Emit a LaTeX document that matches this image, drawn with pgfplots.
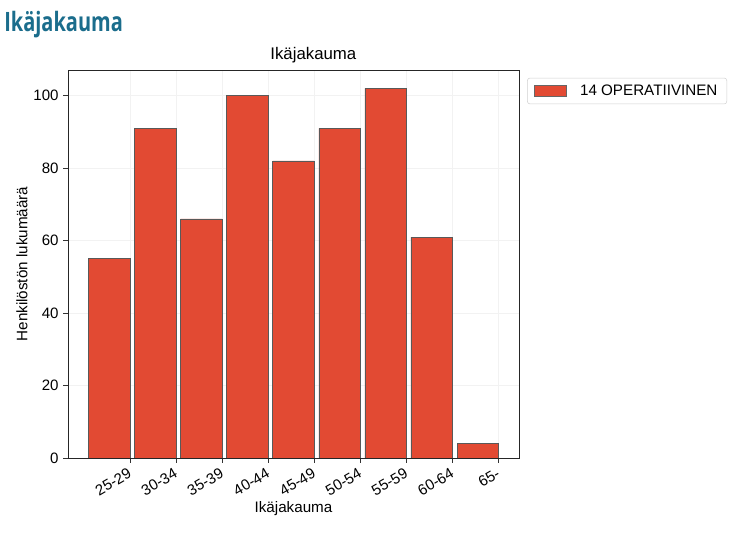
\documentclass[border=0pt]{standalone}
\usepackage{pgfplots}
\pgfplotsset{compat=1.18}
\usepackage{fontspec}
\setmainfont{Liberation Sans}
\newfontfamily\titlefont[FakeStretch=0.75]{Open Sans}
\definecolor{barred}{HTML}{E24A33}
\definecolor{titleteal}{HTML}{1B6D8C}
\begin{document}
\begin{tikzpicture}
\path (0pt,0pt) rectangle (549.75pt,404.25pt);
\node[anchor=base west,font=\titlefont\bfseries\fontsize{20}{23}\selectfont,text=titleteal,inner sep=0pt] at (3pt,380.25pt) {Ikäjakauma};
\begin{axis}[
  at={(51pt,60.75pt)}, anchor=south west,
  width=338.25pt, height=291pt, scale only axis,
  xmin=-0.895, xmax=8.895,
  ymin=0, ymax=107.1,
  ybar, bar width=0.9, bar shift=0pt,
  xtick={0.45,1.45,2.45,3.45,4.45,5.45,6.45,7.45,8.45},
  xticklabels={25-29,30-34,35-39,40-44,45-49,50-54,55-59,60-64,65-},
  ytick={0,20,40,60,80,100},
  x tick label style={rotate=30,anchor=north east,font=\fontsize{11.3}{13}\selectfont,inner sep=1.5pt,xshift=-2pt,yshift=-0.5pt},
  y tick label style={font=\fontsize{11.3}{13}\selectfont},
  /pgf/number format/assume math mode=true,
  tick align=outside, tick pos=left,
  major tick length=3.5pt,
  tick style={black!80, line width=0.6pt},
  axis line style={black!85, line width=0.7pt},
  grid=major, major grid style={black!5, line width=0.4pt},
  title={Ikäjakauma}, title style={font=\fontsize{12.6}{14}\selectfont, at={(axis description cs:0.544,1)}, anchor=base, yshift=2pt, inner sep=0pt},
  xlabel={Ikäjakauma}, ylabel={Henkilöstön lukumäärä},
  label style={font=\fontsize{11.4}{13}\selectfont},
  xlabel style={at={(axis description cs:0.5,-0.131)}, anchor=center},
  ylabel style={at={(axis description cs:-0.102,0.5)}, anchor=center},
  legend style={at={(1.018,0.98)}, anchor=north west, draw=black!18, rounded corners=2pt, font=\fontsize{11.4}{13}\selectfont, inner ysep=3pt, inner xsep=5pt},
  legend image code/.code={\draw[sharp corners,fill=barred,draw=black!60] (0pt,-4pt) rectangle (24pt,4pt); \path (32pt,0pt);},
]
\addplot[fill=barred, draw=black!65, line width=0.5pt] coordinates {
(0,55) (1,91) (2,66) (3,100) (4,82) (5,91) (6,102) (7,61) (8,4)
};
\addlegendentry{14 OPERATIIVINEN}
\end{axis}
\end{tikzpicture}
\end{document}
